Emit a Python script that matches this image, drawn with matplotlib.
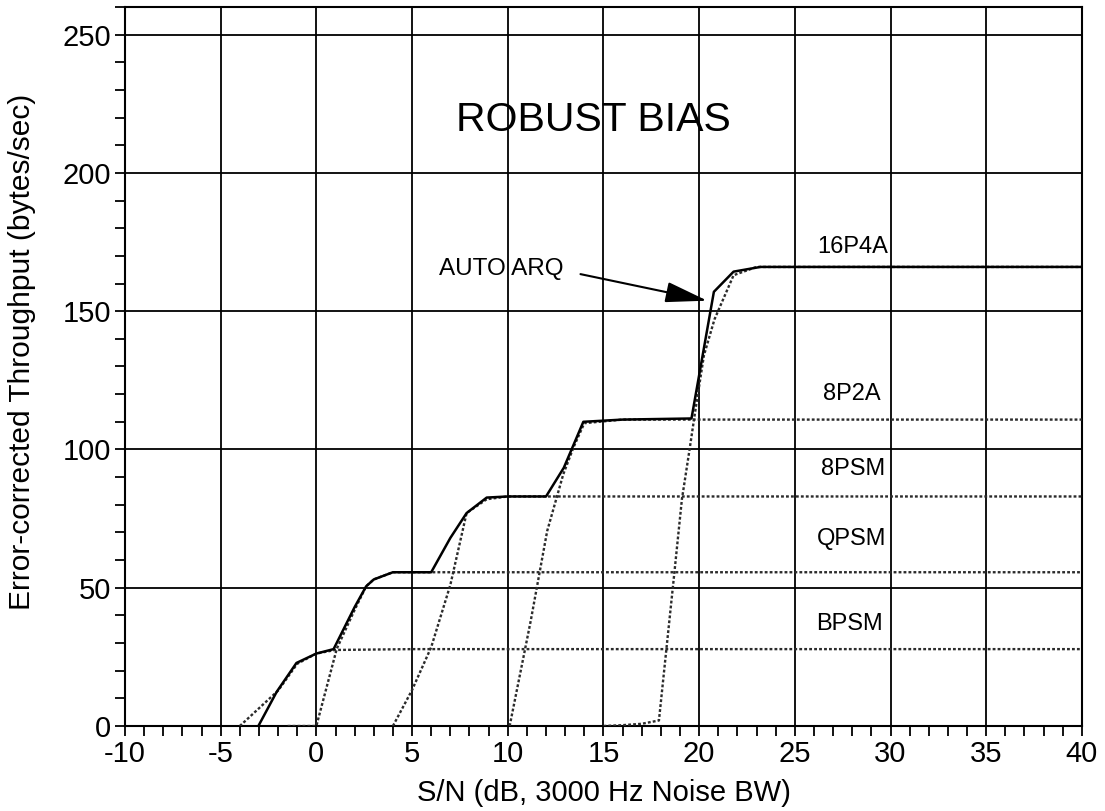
import matplotlib
matplotlib.use('Agg')
import matplotlib.pyplot as plt
from matplotlib.ticker import MultipleLocator

plt.rcParams['font.family'] = ['Liberation Sans', 'DejaVu Sans']
plt.rcParams['axes.unicode_minus'] = False

# S/N in dB, throughput in bytes/sec
bpsm_x = [-4, -3, -2, -1, 0, 1, 5, 10, 20, 30, 40]
bpsm_y = [0, 6.4, 12.8, 22.5, 26.2, 27.5, 27.8, 27.8, 27.8, 27.8, 27.8]

qpsm_x = [-1.5, 0, 1.07, 2, 2.6, 3, 4, 10, 20, 30, 40]
qpsm_y = [0, 0, 28, 42, 50.5, 53, 55.6, 55.6, 55.6, 55.6, 55.6]

psm8_x = [4, 5, 6, 7, 7.85, 8.9, 10, 20, 30, 40]
psm8_y = [0, 13, 28.5, 51, 77, 82, 83, 83, 83, 83]

p2a8_x = [10.1, 11.2, 12.06, 12.9, 13.45, 14, 16, 20, 30, 40]
p2a8_y = [0, 38, 70.5, 91, 101, 109.5, 110.8, 110.8, 110.8, 110.8]

p4a16_x = [15, 16, 17, 17.9, 18.7, 19.1, 19.5, 19.8, 20.25, 20.8, 21.8, 23, 30, 40]
p4a16_y = [0, 0.3, 0.8, 2, 55, 82, 100, 114, 134, 147, 163, 166, 166, 166]

arq_x = [-3.03, -2.07, -1.04, 0, 0.9, 2, 2.6, 3, 4, 6, 7, 7.85, 8.9, 10, 12,
         12.93, 13.95, 16, 19.6, 20.77, 21.8, 23.2, 30, 40]
arq_y = [0, 12.4, 22.8, 26.2, 27.8, 43, 50.5, 53, 55.6, 55.6, 68, 77, 82.6, 83, 83,
         93.4, 110, 110.8, 111.2, 157, 164.3, 166, 166, 166]

mode_names = ['16P4A', '8P2A', '8PSM', 'QPSM', 'BPSM']
label_x = [29.9, 29.5, 29.7, 29.8, 29.6]
label_y = [173.3, 119.9, 92.9, 67.6, 37.0]

fig = plt.figure(figsize=(11.05, 8.11), dpi=100)
ax = fig.add_axes([0.1131, 0.1048, 0.866, 0.8866])

dot = dict(color='#2b2b2b', lw=1.7, linestyle=(0, (1.2, 0.9)), zorder=3)
for xs, ys in [(bpsm_x, bpsm_y), (qpsm_x, qpsm_y), (psm8_x, psm8_y),
               (p2a8_x, p2a8_y), (p4a16_x, p4a16_y)]:
    ax.plot(xs, ys, **dot)
ax.plot(arq_x, arq_y, color='black', lw=1.8, zorder=4)

ax.set_xlim(-10, 40)
ax.set_ylim(0, 260)
ax.xaxis.set_major_locator(MultipleLocator(5))
ax.xaxis.set_minor_locator(MultipleLocator(1))
ax.yaxis.set_major_locator(MultipleLocator(50))
ax.yaxis.set_minor_locator(MultipleLocator(10))
ax.grid(True, which='major', color='black', lw=1.3)
ax.set_axisbelow(True)
ax.tick_params(which='both', direction='out', length=7, width=1.3, labelsize=21, pad=3)
for s in ax.spines.values():
    s.set_linewidth(1.5)

ax.set_xlabel('S/N (dB, 3000 Hz Noise BW)', fontsize=21)
ax.set_ylabel('Error-corrected Throughput (bytes/sec)', fontsize=21.5)
ax.xaxis.set_label_coords(0.5, -0.074)
ax.yaxis.set_label_coords(-0.093, 0.52)

ax.text(14.45, 219, 'ROBUST BIAS', fontsize=29.5, ha='center', va='center')
for name, lx, ly in zip(mode_names, label_x, label_y):
    ax.text(lx, ly, name, fontsize=17, ha='right', va='center')

ax.text(9.65, 165.2, 'AUTO ARQ', fontsize=17.5, ha='center', va='center')
ax.annotate('', xy=(20.42, 153.8), xytext=(13.8, 163.4),
            arrowprops=dict(arrowstyle='-|>,head_length=1.3,head_width=0.32',
                            color='black', lw=1.5, mutation_scale=20,
                            shrinkA=0, shrinkB=0))

fig.savefig('out.png', dpi=100)
